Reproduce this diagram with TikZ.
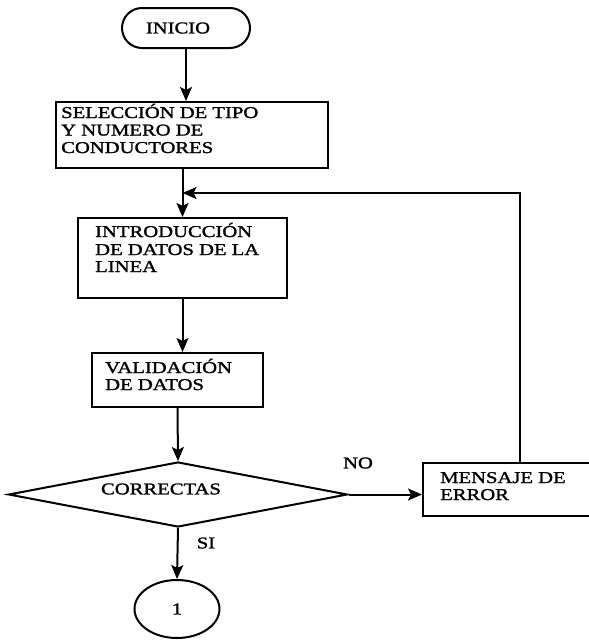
\documentclass[tikz,border=0pt]{standalone}
\usepackage{fontspec}
\setmainfont[FakeStretch=1.25,FakeBold=1.5]{Liberation Serif}
\usetikzlibrary{shapes.geometric,arrows.meta}
\begin{document}
\begin{tikzpicture}[x=1pt,y=-1pt,
  every node/.style={font=\fontsize{16.5}{17}\selectfont},
  line/.style={line width=2pt},
  arr/.style={line width=2pt,-{Stealth[length=14pt,width=12pt,inset=3pt]}},
  box/.style={draw,line width=2pt,rectangle,inner sep=0pt},
  txt/.style={anchor=base west,inner sep=0pt},
  lbl/.style={inner sep=0pt}]
\useasboundingbox (0,0) rectangle (589,640);
% start
\node[box,rounded corners=20pt,minimum width=128pt,minimum height=40pt] (ini) at (186,28) {};
\node[lbl] (initxt) at (178,28) {INICIO};
% box 1
\node[box,minimum width=272pt,minimum height=66pt] (b1) at (192,135) {};
\node[txt] (b1a) at (61,118) {SELECCIÓN DE TIPO};
\node[txt] (b1b) at (61,135.5) {Y NUMERO DE};
\node[txt] (b1c) at (61,153) {CONDUCTORES};
% box 2
\node[box,minimum width=209pt,minimum height=80pt] (b2) at (182.5,258) {};
\node[txt] (b2a) at (95,237) {INTRODUCCIÓN};
\node[txt] (b2b) at (95,255) {DE DATOS DE LA};
\node[txt] (b2c) at (95,272) {LINEA};
% box 3
\node[box,minimum width=171pt,minimum height=54pt] (b3) at (177.5,380) {};
\node[txt] (b3a) at (105,373) {VALIDACIÓN};
\node[txt] (b3b) at (105,390) {DE DATOS};
% decision
\node[draw,line width=2pt,diamond,inner sep=0pt,minimum width=339pt,minimum height=65pt] (dia) at (178,494.5) {};
\node[lbl] (diatxt) at (161,489) {CORRECTAS};
% error box
\node[box,minimum width=168pt,minimum height=53pt] (err) at (507,489.5) {};
\node[txt] (erra) at (440,483) {MENSAJE DE};
\node[txt] (errb) at (440,500) {ERROR};
% end connector
\node[draw,line width=2pt,ellipse,inner sep=0pt,minimum width=85pt,minimum height=58pt] (fin) at (177,609) {1};
% labels
\node[lbl] (no) at (358,463) {NO};
\node[lbl] (si) at (206,543) {SI};
% connectors
\coordinate (fb) at (520,193);
\draw[arr] (ini.south) -- (ini.south |- b1.north);
\draw[arr] (b1.south -| b2.north) -- (b2.north);
\draw[arr] (err.north -| fb) -- (fb) -- (fb -| b2.north);
\draw[arr] (b2.south) -- (b2.south |- b3.north);
\draw[arr] (b3.south) -- (dia.north);
\draw[arr] (dia.east) -- (dia.east -| err.west);
\draw[arr] (dia.south) -- (fin.north);
\end{tikzpicture}
\end{document}
